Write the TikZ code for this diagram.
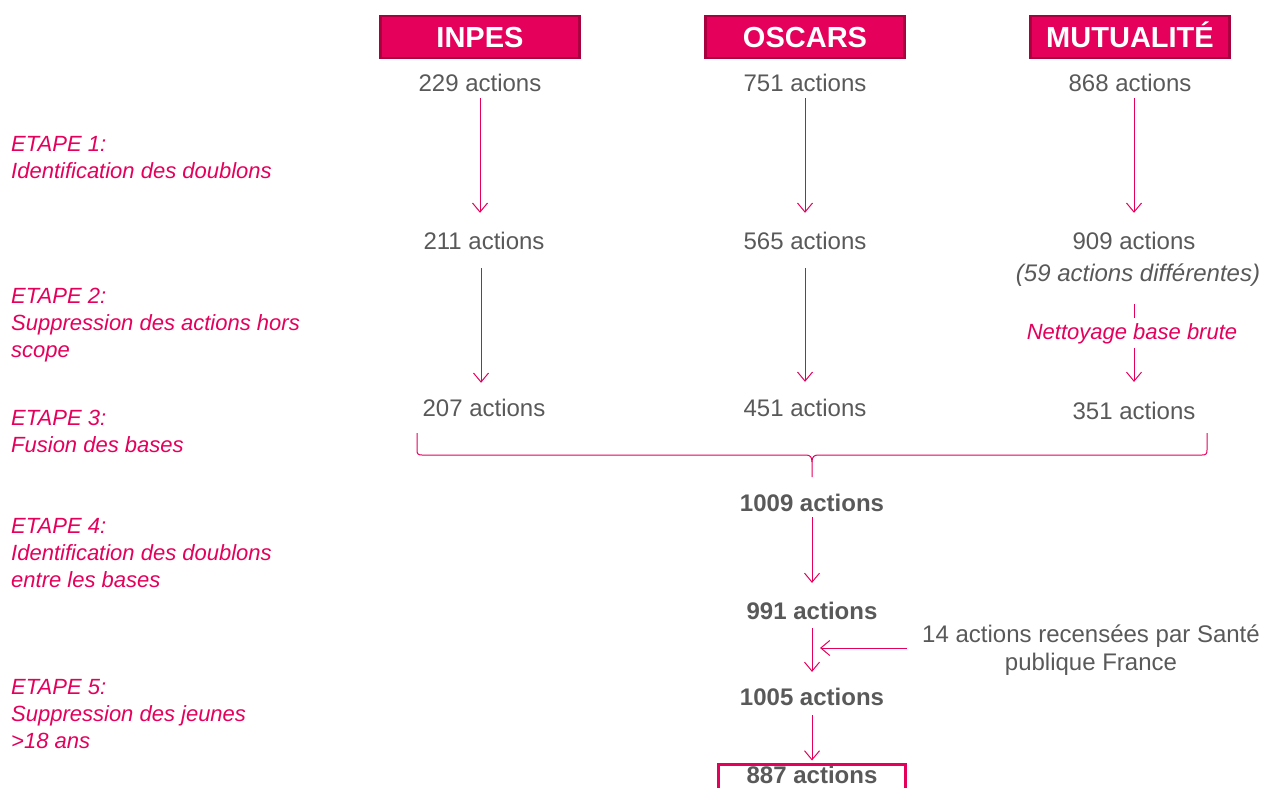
\documentclass[tikz,border=0pt]{standalone}
\usepackage{fontspec}
\setmainfont{Liberation Sans}
\usetikzlibrary{arrows.meta}
\definecolor{pink}{HTML}{E4005B}
\definecolor{darkpink}{HTML}{A9003F}
\definecolor{txtgrey}{HTML}{595959}
\tikzset{
  hdr/.style={fill=pink, draw=darkpink, line width=2.5pt, minimum width=199pt, minimum height=42pt, inner sep=0pt,
    text=white, font=\fontsize{29}{33}\selectfont\bfseries, text height=21pt, text depth=0pt},
  cnt/.style={inner sep=0pt, text=txtgrey, font=\fontsize{24}{28}\selectfont, text height=17pt, text depth=0pt},
  cntb/.style={cnt, font=\fontsize{24}{28}\selectfont\bfseries},
  note/.style={inner sep=0pt, text=txtgrey, align=center, font=\fontsize{24}{28}\selectfont},
  steplbl/.style={anchor=north west, inner sep=0pt, align=left, text=pink, font=\fontsize{22}{27}\selectfont\itshape},
  arr/.style={draw=pink, line width=1pt, -{Straight Barb[length=9pt, width=15pt, line width=1pt]}},
  ln/.style={draw=pink, line width=1pt},
  finalbox/.style={draw=pink, line width=3pt, minimum width=187pt, minimum height=44pt, inner sep=0pt},
}
\begin{document}
\begin{tikzpicture}[x=1pt, y=-1pt]
\useasboundingbox (0,0) rectangle (1263,787);
% headers
\node[hdr] (hI) at (480,37) {INPES};
\node[hdr] (hO) at (805,37) {OSCARS};
\node[hdr] (hM) at (1130,37) {MUTUALITÉ};
% row 1
\node[cnt] (i1) at (480,83) {229 actions};
\node[cnt] (o1) at (805,83) {751 actions};
\node[cnt] (m1) at (1130,83) {868 actions};
% row 2
\node[cnt] (i2) at (484,241) {211 actions};
\node[cnt] (o2) at (805,241) {565 actions};
\node[cnt] (m2) at (1134,241) {909 actions};
\node[cnt, font=\fontsize{24}{28}\selectfont\itshape, text depth=5pt] (m2b) at (1138,275) {(59 actions différentes)};
\node[inner sep=0pt, text=pink, font=\fontsize{22}{27}\selectfont\itshape] (net) at (1132,334) {Nettoyage base brute};
% row 3
\node[cnt] (i3) at (484,408) {207 actions};
\node[cnt] (o3) at (805,408) {451 actions};
\node[cnt] (m3) at (1134,411) {351 actions};
% merged
\node[cntb] (b1) at (812,503) {1009 actions};
\node[cntb] (b2) at (812,611) {991 actions};
\node[cntb] (b3) at (812,697) {1005 actions};
\node[finalbox] (fb) at (812,786) {};
\node[cntb] (b4) at (812,775) {887 actions};
\node[note] (spf) at (1091,650.5) {14 actions recensées par Santé\\publique France};
\coordinate (join) at (812,648);
% step labels
\node[steplbl] (s1) at (11,136) {ETAPE 1:\\Identification des doublons};
\node[steplbl] (s2) at (11,288) {ETAPE 2:\\Suppression des actions hors\\scope};
\node[steplbl] (s3) at (11,410) {ETAPE 3:\\Fusion des bases};
\node[steplbl] (s4) at (11,518) {ETAPE 4:\\Identification des doublons\\entre les bases};
\node[steplbl] (s5) at (11,679) {ETAPE 5:\\Suppression des jeunes\\>18 ans};
% arrows
\draw[arr, shorten <=6.5pt, shorten >=19.5pt] (i1.south) -- (i1.south |- i2.north);
\draw[arr, shorten <=6.5pt, shorten >=19.5pt] (o1.south) -- (o2.north);
\draw[arr, shorten <=6.5pt, shorten >=19.5pt] (m1.south -| m2.north) -- (m2.north);
\draw[arr, shorten <=18.5pt, shorten >=16.5pt] ([xshift=-3pt]i2.south) -- ([xshift=-3pt]i3.north);
\draw[arr, shorten <=18.5pt, shorten >=17.5pt] (o2.south) -- (o3.north);
\draw[ln, shorten <=18pt, shorten >=5.7pt] (m2b.south -| m2.south) -- (net.north -| m2.south);
\draw[arr, shorten <=3.7pt, shorten >=20.4pt] (net.south -| m3.north) -- (m3.north);
% brace
\draw[ln] (417,433) -- (417,450) .. controls (417,454) and (418,455) .. (422,455) -- (806,455)
  .. controls (810,455) and (812,457) .. (812,462) -- (812,477);
\draw[ln] (1207,433) -- (1207,450) .. controls (1207,454) and (1206,455) .. (1202,455) -- (818,455)
  .. controls (814,455) and (812,457) .. (812,462);
% lower arrows
\draw[arr, shorten <=5.4pt, shorten >=19.4pt] (b1.south) -- (b2.north);
\draw[arr, shorten <=8.4pt, shorten >=16.4pt] (b2.south) -- (b3.north);
\draw[arr, shorten <=9.4pt, shorten >=2pt] (b3.south) -- (fb.north);
\draw[arr, shorten <=15pt, shorten >=8pt] (spf.west |- join) -- (join);
\end{tikzpicture}
\end{document}
